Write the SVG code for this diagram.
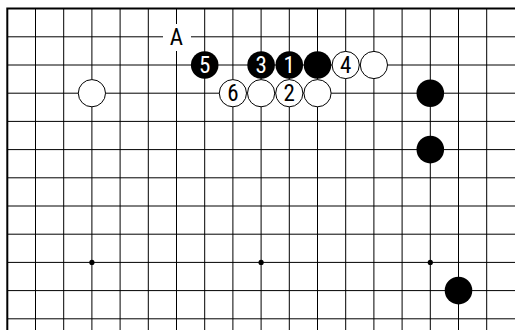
<svg xmlns="http://www.w3.org/2000/svg" width="515" height="330" viewBox="0 0 515 330">
<style>
.g{stroke:#000;stroke-width:1;fill:none}
.e{stroke:#000;stroke-width:2;fill:none}
.b{fill:#000}
.w{fill:#fff;stroke:#000;stroke-width:1}
.t{font-family:"Liberation Sans Narrow","Roboto Condensed","DejaVu Sans Condensed","Liberation Sans",sans-serif;font-stretch:condensed;font-size:23px;text-anchor:middle}
.tb{fill:#fff}
.tw{fill:#000}
</style>
<rect width="515" height="330" fill="#fff"/>
<g id="board">
<path class="g" d="M35.5 8.6V330M63.7 8.6V330M91.9 8.6V330M120.1 8.6V330M148.3 8.6V330M176.5 8.6V330M204.7 8.6V330M232.9 8.6V330M261.1 8.6V330M289.3 8.6V330M317.5 8.6V330M345.7 8.6V330M373.9 8.6V330M402.1 8.6V330M430.3 8.6V330M458.5 8.6V330M486.7 8.6V330"/>
<path class="g" d="M7.3 36.8H515M7.3 65H515M7.3 93.2H515M7.3 121.4H515M7.3 149.6H515M7.3 177.8H515M7.3 206H515M7.3 234.2H515M7.3 262.4H515M7.3 290.6H515M7.3 318.8H515"/>
<path class="e" d="M7.3 330V8.6H515"/>
<circle class="b" cx="91.9" cy="262.4" r="2.6"/>
<circle class="b" cx="261.1" cy="262.4" r="2.6"/>
<circle class="b" cx="430.3" cy="262.4" r="2.6"/>
</g>
<g id="labelA">
<rect x="163" y="24" width="28" height="27" fill="#fff"/>
<text class="t tw" x="176.5" y="45.3">A</text>
</g>
<g id="w-3-3"><circle class="w" cx="91.9" cy="93.2" r="13.6"/></g>
<g id="b5"><circle class="b" cx="204.7" cy="65" r="13.8"/><text class="t tb" x="204.7" y="73">5</text></g>
<g id="b3"><circle class="b" cx="261.1" cy="65" r="13.8"/><text class="t tb" x="261.1" y="73">3</text></g>
<g id="b1"><circle class="b" cx="289.3" cy="65" r="13.8"/><text class="t tb" x="289.3" y="73">1</text></g>
<g id="b-11-2"><circle class="b" cx="317.5" cy="65" r="13.8"/></g>
<g id="w4"><circle class="w" cx="345.7" cy="65" r="13.6"/><text class="t tw" x="345.7" y="73">4</text></g>
<g id="w-13-2"><circle class="w" cx="373.9" cy="65" r="13.6"/></g>
<g id="w6"><circle class="w" cx="232.9" cy="93.2" r="13.6"/><text class="t tw" x="232.9" y="101.2">6</text></g>
<g id="w-9-3"><circle class="w" cx="261.1" cy="93.2" r="13.6"/></g>
<g id="w2"><circle class="w" cx="289.3" cy="93.2" r="13.6"/><text class="t tw" x="289.3" y="101.2">2</text></g>
<g id="w-11-3"><circle class="w" cx="317.5" cy="93.2" r="13.6"/></g>
<g id="b-15-3"><circle class="b" cx="430.3" cy="93.2" r="13.8"/></g>
<g id="b-15-5"><circle class="b" cx="430.3" cy="149.6" r="13.8"/></g>
<g id="b-16-10"><circle class="b" cx="458.5" cy="290.6" r="13.8"/></g>
<g id="connectors"></g>
</svg>
